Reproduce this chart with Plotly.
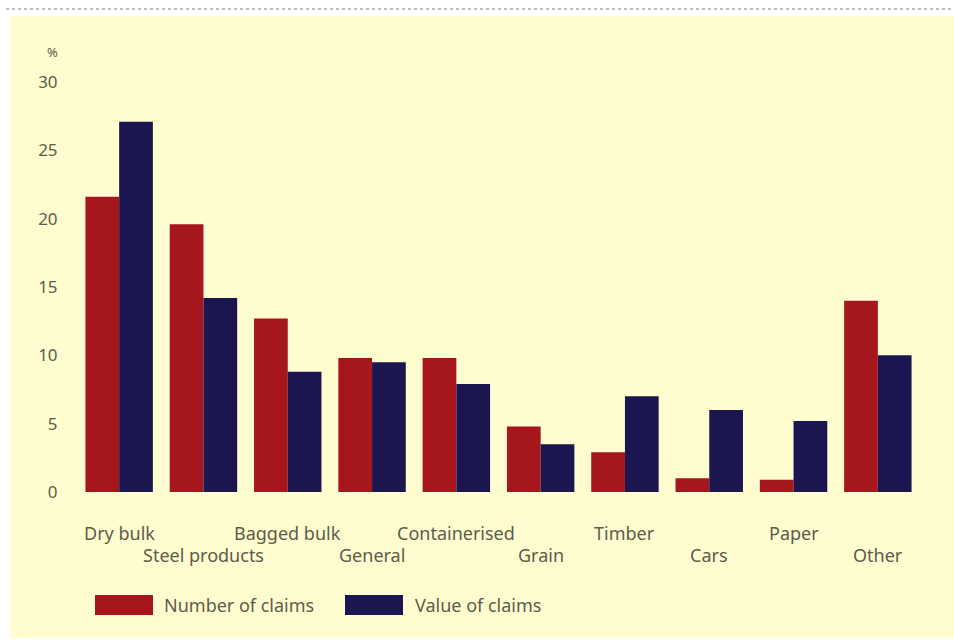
import plotly.graph_objects as go

# Share of cargo claims by cargo type (%)
categories = ["Dry bulk", "Steel products", "Bagged bulk", "General", "Containerised",
              "Grain", "Timber", "Cars", "Paper", "Other"]
number_of_claims = [21.6, 19.6, 12.7, 9.8, 9.8, 4.8, 2.9, 1.0, 0.9, 14.0]
value_of_claims = [27.1, 14.2, 8.8, 9.5, 7.9, 3.5, 7.0, 6.0, 5.2, 10.0]
y_ticks = [0, 5, 10, 15, 20, 25, 30]
legend_labels = ["Number of claims", "Value of claims"]

RED = "#a5171c"
NAVY = "#1b1650"
PANEL = "#fffcd0"
TEXT = "#5e5c48"
FONT = "Noto Sans"

W, H = 954, 643
ML, MR, MT, MB = 77, 34, 82, 151
PW, PH = W - ML - MR, H - MT - MB


def px_x(x):
    return (x - ML) / PW


def px_y(y):
    return (H - MB - y) / PH


fig = go.Figure()
fig.add_trace(go.Bar(x=categories, y=number_of_claims, name=legend_labels[0],
                     marker=dict(color=RED, line=dict(width=0))))
fig.add_trace(go.Bar(x=categories, y=value_of_claims, name=legend_labels[1],
                     marker=dict(color=NAVY, line=dict(width=0))))

shapes = [
    # pale panel behind the chart
    dict(type="rect", xref="paper", yref="paper", layer="below",
         x0=px_x(10), x1=px_x(W + 2), y0=px_y(638), y1=px_y(16),
         fillcolor=PANEL, line=dict(width=0)),
    # dotted rule along the top
    dict(type="line", xref="paper", yref="paper",
         x0=px_x(6), x1=px_x(W), y0=px_y(9), y1=px_y(9),
         line=dict(color="#a9a9b8", width=1.5, dash="dot")),
    # legend swatches
    dict(type="rect", xref="paper", yref="paper",
         x0=px_x(95), x1=px_x(153), y0=px_y(615), y1=px_y(595),
         fillcolor=RED, line=dict(width=0)),
    dict(type="rect", xref="paper", yref="paper",
         x0=px_x(345), x1=px_x(403), y0=px_y(615), y1=px_y(595),
         fillcolor=NAVY, line=dict(width=0)),
]

annotations = [
    dict(text="%", xref="paper", yref="paper", x=px_x(52), y=px_y(52),
         showarrow=False, xanchor="center", yanchor="middle",
         font=dict(family=FONT, size=13, color=TEXT)),
    dict(text=legend_labels[0], xref="paper", yref="paper", x=px_x(162), y=px_y(605),
         showarrow=False, xanchor="left", yanchor="middle",
         font=dict(family=FONT, size=18, color=TEXT)),
    dict(text=legend_labels[1], xref="paper", yref="paper", x=px_x(413), y=px_y(605),
         showarrow=False, xanchor="left", yanchor="middle",
         font=dict(family=FONT, size=18, color=TEXT)),
]

# category names staggered over two rows
for i, name in enumerate(categories):
    row_y = 533 if i % 2 == 0 else 555
    annotations.append(dict(text=name, xref="x", yref="paper", x=name, y=px_y(row_y),
                            showarrow=False, xanchor="center", yanchor="middle",
                            font=dict(family=FONT, size=18, color=TEXT)))

fig.update_layout(
    width=W, height=H,
    margin=dict(l=ML, r=MR, t=MT, b=MB, pad=0),
    paper_bgcolor="white",
    plot_bgcolor="rgba(0,0,0,0)",
    barmode="group",
    bargap=0.2,
    bargroupgap=0,
    showlegend=False,
    shapes=shapes,
    annotations=annotations,
    xaxis=dict(showticklabels=False, showgrid=False, zeroline=False, showline=False,
               ticks=""),
    yaxis=dict(range=[0, 30], tickvals=y_ticks, ticktext=[str(v) for v in y_ticks],
               showgrid=False, zeroline=False, showline=False, ticks="outside",
               ticklen=15, tickcolor="rgba(0,0,0,0)",
               tickfont=dict(family=FONT, size=17, color=TEXT)),
)

fig.write_html("out.html")
